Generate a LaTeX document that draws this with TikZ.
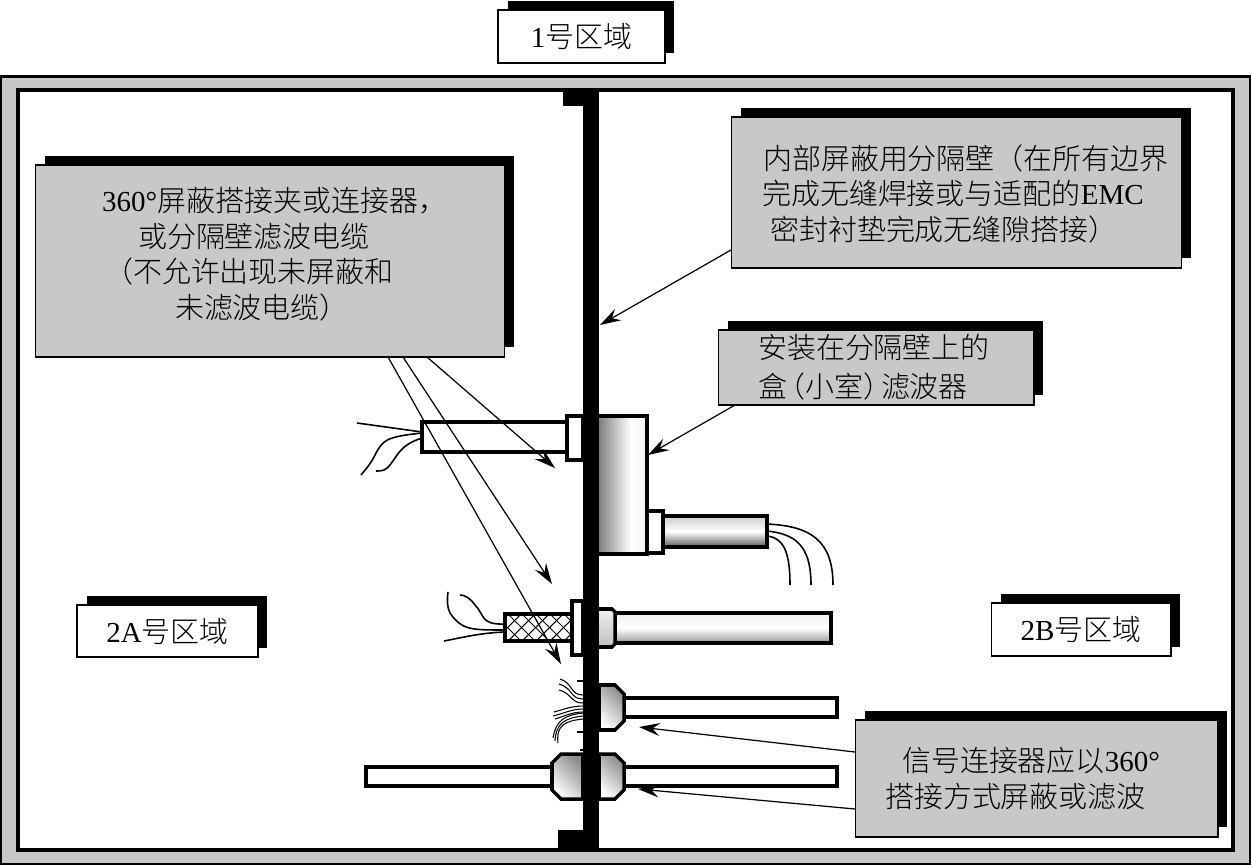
\documentclass[tikz,border=0pt]{standalone}
\usepackage{fontspec}
\setmainfont{Liberation Serif}
\newfontfamily\cjk{Noto Sans CJK SC Light}
\newcommand{\lat}[1]{{\rmfamily #1}}
\usepackage{tikz}
\usetikzlibrary{arrows.meta, shadows}
\definecolor{panelgray}{HTML}{C8C8C8}
\pgfdeclarehorizontalshading{filtershade}{100bp}{color(0bp)=(black!50); color(25bp)=(black!50); color(58bp)=(white); color(75bp)=(black!6); color(100bp)=(black!6)}

\begin{document}
\begin{tikzpicture}[
  x=0.02cm, y=-0.02cm,
  >={Stealth[length=0.42cm, width=0.26cm, inset=0.15cm]},
  callout/.style={draw=black, line width=0.6pt, fill=panelgray, inner sep=0pt, align=left,
    font=\cjk\fontsize{16.5}{20.2}\selectfont,
    general shadow={fill=black, shadow xshift=0.19cm, shadow yshift=0.19cm}},
  zonebox/.style={callout, fill=white, align=center},
  pointer/.style={->, line width=0.7pt},
  cable/.style={draw=black, line width=2pt},
  wire/.style={line width=0.9pt},
  thinwire/.style={line width=0.6pt},
  nutshade/.style={shading=axis, left color=black!45, right color=white, shading angle=-45},
]
\useasboundingbox (0,0) rectangle (1251,865);

% --- Outer frame ---
\draw[line width=1.7pt, fill=panelgray] (1,76.5) rectangle (1250,864);
\draw[line width=2.2pt, fill=white] (18,90) rectangle (1233,850);

% --- Lower bulkhead connectors (under the wall) ---
\draw[cable, fill=white] (624,698) rectangle (837,717);
\draw[cable, nutshade] (599,685) -- (615,685) -- (624,694) -- (624,721) -- (615,730) -- (599,730) -- cycle;
\draw[cable, fill=white] (366,767) rectangle (552,786);
\draw[cable, fill=white] (624,767) rectangle (837,786);
\draw[cable, nutshade] (599,754) -- (615,754) -- (624,763) -- (624,790) -- (615,799) -- (599,799) -- cycle;
\draw[cable, nutshade] (583,754) -- (561,754) -- (552,763) -- (552,790) -- (561,799) -- (583,799) -- cycle;

% --- Wall ---
\fill[black] (583,90) rectangle (599,850);
\fill[black] (563,90) rectangle (583,106);
\fill[black] (558,830) rectangle (583,850);

% --- Filter box connector ---
\draw[cable, fill=white] (422,422) rectangle (567,452);
\draw[cable, fill=white] (567,416) rectangle (583,460);
\draw[cable, shading=filtershade] (599,416) -- (647,416) -- (647,554) -- (599,554);
\draw[cable, fill=white] (647,511) rectangle (663,553);
\draw[cable, top color=black!20, bottom color=black!65, middle color=white] (663,516) rectangle (767,547);

% --- Braided cable connector ---
\draw[cable, fill=white] (505,614) rectangle (572,641);
\begin{scope}
  \clip (505,614) rectangle (572,641);
  \foreach \i in {480,494,...,590} {
    \draw[thinwire] (\i,614) -- (\i+27,641);
    \draw[thinwire] (\i,641) -- (\i+27,614);
  }
\end{scope}
\draw[cable, fill=white] (572,601) rectangle (583,655);
\draw[cable, top color=black!6, bottom color=black!40, middle color=white] (615,613) rectangle (831,643);
\draw[cable, top color=black!6, bottom color=black!25] (599,609) -- (612,609) -- (615,612) -- (615,644) -- (612,647) -- (599,647);

% --- Loose wires ---
\draw[wire] (422,432) -- (357,423);
\draw[wire] (422,433) .. controls (385,437) and (383,440) .. (375,455) .. controls (370,465) and (365,470) .. (361,475);
\draw[wire] (422,438) .. controls (400,445) and (398,455) .. (390,465) .. controls (385,471) and (382,471) .. (376,471);
\draw[wire] (767,524) .. controls (810,526) and (833,540) .. (833,585);
\draw[wire] (767,531) .. controls (795,534) and (811,545) .. (811,585);
\draw[wire] (767,536) .. controls (785,538) and (790,555) .. (790,585);
\draw[wire] (505,630) .. controls (470,630) and (462,630) .. (450,613) .. controls (447,607) and (447,600) .. (448,592);
\draw[wire] (505,624) .. controls (480,625) and (485,615) .. (475,605) .. controls (470,598) and (465,595) .. (460,595);
\draw[wire] (505,632) .. controls (480,633) and (465,637) .. (444,641);
\foreach \ya/\xb/\yb in {695/560/679, 699/559/684, 703/559/690} {
  \draw[thinwire] (583,\ya) .. controls (570,\ya) and (573,\yb+4) .. (\xb,\yb);
}
\foreach \ya/\xb/\yb in {706/554/712, 709/553/716, 712/555/719} {
  \draw[thinwire] (583,\ya) .. controls (572,\ya) and (565,\yb-3) .. (\xb,\yb);
}
\foreach \ya/\xb/\yb in {713/553/738, 716/555/741, 719/558/743} {
  \draw[thinwire] (583,\ya) .. controls (565,\ya+2) and (556,\yb-18) .. (\xb,\yb);
}
\draw[thinwire] (577,681) -- (583,681);
\draw[thinwire] (577,732) -- (583,732);
\draw[thinwire] (580,750) -- (583,750);

% --- Callouts ---
\node[zonebox, minimum width=3.34cm, minimum height=1.06cm] (zoneone) at (581.5,36.5) {\lat{1}号区域};
\node[zonebox, minimum width=3.62cm, minimum height=1.04cm] (zoneleft) at (167.5,631) {\lat{2A}号区域};
\node[zonebox, minimum width=3.6cm, minimum height=1.06cm] (zoneright) at (1081,629.5) {\lat{2B}号区域};
\node[callout, text width=9.4cm, minimum height=3.84cm, text depth=2.45cm] (clampbox) at (270,261) {%
  \hspace*{1.34cm}\lat{360°}屏蔽搭接夹或连接器，\\
  \hspace*{2.06cm}或分隔壁滤波电缆\\
  \hspace*{1.38cm}（不允许出现未屏蔽和\\
  \hspace*{2.8cm}未滤波电缆）};
\node[callout, text width=9.02cm, minimum height=3.02cm, text depth=1.43cm] (wallbox) at (956.5,192.5) {%
  \hspace*{0.64cm}内部屏蔽用分隔壁（在所有边界\\
  \hspace*{0.62cm}完成无缝焊接或与适配的\lat{EMC}\\
  \hspace*{0.78cm}密封衬垫完成无缝隙搭接）};
\node[callout, text width=6.32cm, minimum height=1.5cm] (filterbox) at (876,367.5) {%
  \hspace*{0.8cm}安装在分隔壁上的\\[2pt]
  \hspace*{0.8cm}盒\hspace{-0.22cm}（小室）\hspace{-0.22cm}滤波器};
\node[callout, text width=7.26cm, minimum height=2.34cm] (signalbox) at (1036.5,778.5) {%
  \hspace*{0.94cm}信号连接器应以\lat{360°}\\
  \hspace*{0.6cm}搭接方式屏蔽或滤波};

% --- Pointers ---
\coordinate (clampA) at (427,357);
\coordinate (clampB) at (403,357);
\coordinate (clampC) at (388,357);
\coordinate (tipA) at (555,468);
\coordinate (tipB) at (552,584);
\coordinate (tipC) at (561,664);
\coordinate (wallstart) at (731,250);
\coordinate (walltip) at (600,325);
\coordinate (filterstart) at (735,405);
\coordinate (filtertip) at (648,455);
\coordinate (signalA) at (855,752);
\coordinate (signalB) at (855,809);
\coordinate (nutA) at (639,727);
\coordinate (nutB) at (638,789);
\draw[pointer] (clampA) -- (tipA);
\draw[pointer] (clampB) -- (tipB);
\draw[pointer] (clampC) -- (tipC);
\draw[pointer] (wallstart) -- (walltip);
\draw[pointer] (filterstart) -- (filtertip);
\draw[pointer] (signalA) -- (nutA);
\draw[pointer] (signalB) -- (nutB);

\end{tikzpicture}
\end{document}
